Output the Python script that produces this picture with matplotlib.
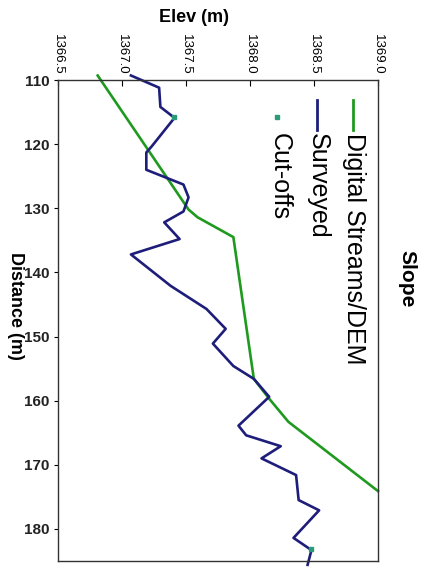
import matplotlib
matplotlib.use("Agg")
import matplotlib.pyplot as plt
from matplotlib.lines import Line2D

plt.rcParams['font.family'] = ['Liberation Sans', 'DejaVu Sans']

# Digital Streams/DEM profile
dem_dist = [109.3, 130.2, 131.4, 134.5, 156.6, 159.7, 163.3, 174.1]
dem_elev = [1366.81, 1367.52, 1367.59, 1367.87, 1368.03, 1368.15, 1368.30, 1369.00]

# Surveyed profile
sur_dist = [109.3, 111.2, 114.2, 115.9, 120.4, 121.3, 124.0, 126.3, 128.3, 130.5,
            132.2, 134.8, 137.2, 142.1, 145.7, 148.8, 151.1, 154.6, 156.6, 159.4,
            163.9, 165.4, 167.1, 169.0, 171.6, 175.5, 177.1, 181.4, 183.3, 185.6]
sur_elev = [1367.07, 1367.29, 1367.30, 1367.41, 1367.23, 1367.19, 1367.19, 1367.48, 1367.52, 1367.48,
            1367.33, 1367.45, 1367.07, 1367.38, 1367.66, 1367.81, 1367.71, 1367.87, 1368.03, 1368.15,
            1367.91, 1367.97, 1368.24, 1368.09, 1368.36, 1368.38, 1368.54, 1368.34, 1368.48, 1368.45]

# cut-off points
cut_dist = [115.7, 183.1]
cut_elev = [1367.41, 1368.48]

xticks = [1366.5, 1367.0, 1367.5, 1368.0, 1368.5, 1369.0]
yticks = [110, 120, 130, 140, 150, 160, 170, 180]

green = '#1f9a1f'
navy = '#1e1e7a'
teal = '#2a9a7a'

W, H = 423, 576
fig = plt.figure(figsize=(W/100, H/100), dpi=100)
ax = fig.add_axes([58/W, 1-561/H, 320/W, 481/H])

ax.plot(dem_elev, dem_dist, color=green, lw=1.9, clip_on=False)
ax.plot(sur_elev, sur_dist, color=navy, lw=1.9, clip_on=False)
ax.plot(cut_elev, cut_dist, 's', color=teal, ms=3.5, ls='none')

ax.set_xlim(1366.5, 1369.0)
ax.set_ylim(185, 110)
ax.xaxis.tick_top()
ax.set_xticks(xticks)
ax.set_xticklabels([f"{v:.1f}" for v in xticks], rotation=-90, fontsize=9.5)
ax.set_yticks(yticks)
ax.set_yticklabels([str(v) for v in yticks], fontsize=11, fontweight='bold', color='#222222')
ax.tick_params(axis='x', direction='in', length=4, pad=4)
ax.tick_params(axis='y', direction='out', length=3, pad=3)
for s in ax.spines.values():
    s.set_color('#333333')
    s.set_linewidth(1.0)

fig.text(194/W, 1-17/H, 'Elev (m)', ha='center', va='center', fontsize=13, fontweight='bold')
fig.text(15/W, 1-252/H, 'Distance (m)', rotation=-90, ha='center', va='top',
         fontsize=13, fontweight='bold')
fig.text(407/W, 1-250/H, 'Slope', rotation=-90, ha='center', va='top',
         fontsize=15, fontweight='bold')

# rotated legend
fig.add_artist(Line2D([353/W, 353/W], [1-100/H, 1-130/H], color=green, lw=2, transform=fig.transFigure))
fig.text(354/W, 1-133/H, 'Digital Streams/DEM', rotation=-90, ha='center', va='top', fontsize=18)
fig.add_artist(Line2D([317/W, 317/W], [1-100/H, 1-130/H], color=navy, lw=2, transform=fig.transFigure))
fig.text(318/W, 1-133/H, 'Surveyed', rotation=-90, ha='center', va='top', fontsize=18)
fig.add_artist(Line2D([277/W], [1-117/H], marker='s', color=teal, ms=3.5, ls='none', transform=fig.transFigure))
fig.text(280/W, 1-133/H, 'Cut-offs', rotation=-90, ha='center', va='top', fontsize=18)

fig.savefig('out.png', dpi=100)
